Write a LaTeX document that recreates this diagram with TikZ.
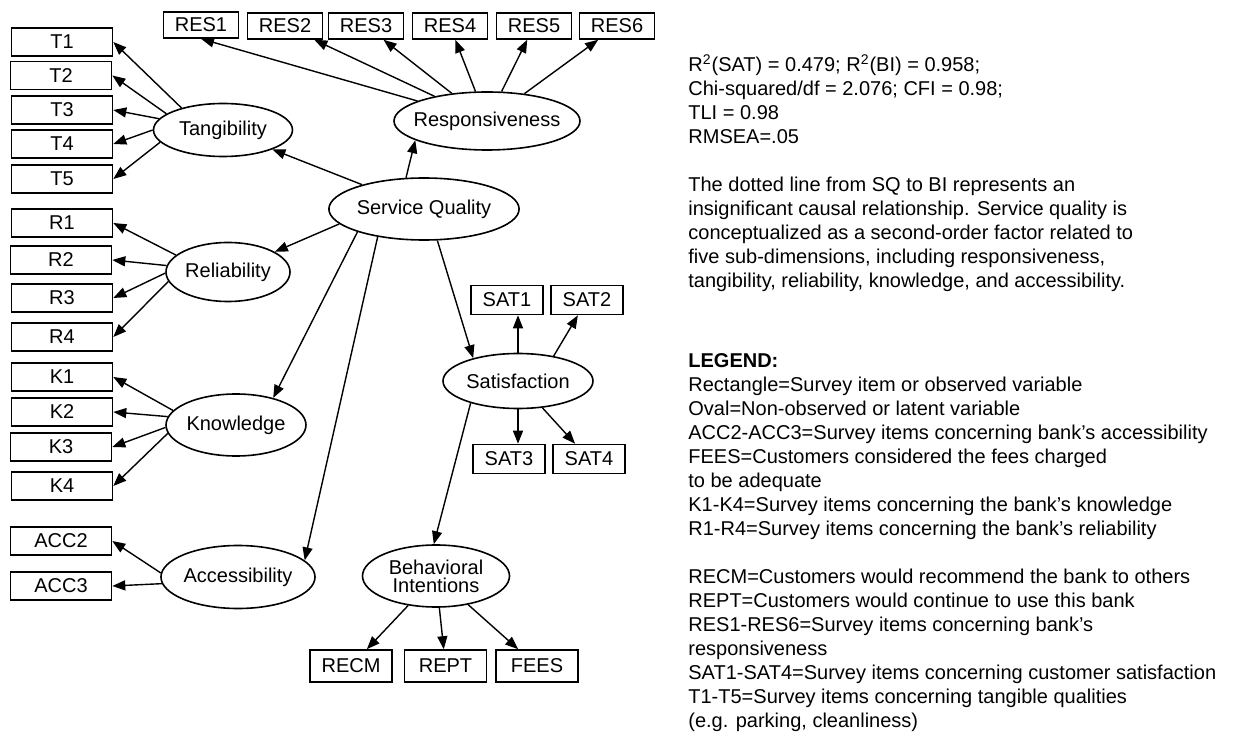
\documentclass[tikz,border=0pt]{standalone}
\usepackage{fontspec}
\setmainfont{Liberation Sans}
\usetikzlibrary{shapes, arrows.meta}

\begin{document}
\begin{tikzpicture}[x=0.5pt, y=-0.5pt,
    item/.style={draw, line width=0.8pt, minimum width=50.5pt, minimum height=14pt, inner sep=0pt},
    topitem/.style={item, minimum width=37.5pt, minimum height=13pt},
    satitem/.style={item, minimum width=36pt, minimum height=14.5pt},
    outitem/.style={item, minimum width=41pt, minimum height=16pt},
    latent/.style={draw, ellipse, line width=0.8pt, inner sep=0pt},
    causal/.style={-{Triangle[length=6.5pt, width=5pt]}, line width=0.7pt}]
    \useasboundingbox (0,0) rectangle (1258,732);
    \node[item] (t1) at (62,42) {T1};
    \node[item] (t2) at (61,75.5) {T2};
    \node[item] (t3) at (62,110) {T3};
    \node[item] (t4) at (62,144) {T4};
    \node[item] (t5) at (62,179) {T5};
    \node[item] (r1) at (62,223) {R1};
    \node[item] (r2) at (61,260) {R2};
    \node[item] (r3) at (62,298) {R3};
    \node[item] (r4) at (62,337) {R4};
    \node[item] (k1) at (62,377) {K1};
    \node[item] (k2) at (62,412) {K2};
    \node[item] (k3) at (61,447) {K3};
    \node[item] (k4) at (62,486) {K4};
    \node[item] (acc2) at (61,541) {ACC2};
    \node[item] (acc3) at (61,586) {ACC3};
    \node[topitem] (res1) at (201,25) {RES1};
    \node[topitem] (res2) at (285,26) {RES2};
    \node[topitem] (res3) at (366,26) {RES3};
    \node[topitem] (res4) at (450,26) {RES4};
    \node[topitem] (res5) at (534,26) {RES5};
    \node[topitem] (res6) at (617,26) {RES6};
    \node[latent, minimum width=69.5pt, minimum height=26.5pt] (tang) at (223,130) {Tangibility};
    \node[latent, minimum width=62pt, minimum height=29.5pt] (rel) at (228,272) {Reliability};
    \node[latent, minimum width=69pt, minimum height=31pt] (know) at (236,425) {Knowledge};
    \node[latent, minimum width=75pt, minimum height=31.5pt] (acc) at (238,577) {Accessibility};
    \node[latent, minimum width=93pt, minimum height=29pt, inner xsep=-4pt] (resp) at (487,121) {Responsiveness};
    \node[latent, minimum width=88pt, minimum height=31pt] (sq) at (424,209) {Service Quality};
    \node[latent, minimum width=75pt, minimum height=27.5pt] (sat) at (518,381) {Satisfaction};
    \node[latent, minimum width=73.5pt, minimum height=31pt, align=center] (beh) at (436,576) {Behavioral\\[-3pt]Intentions};
    \node[satitem] (sat1) at (507,300) {SAT1};
    \node[satitem] (sat2) at (587,300) {SAT2};
    \node[satitem] (sat3) at (509,459) {SAT3};
    \node[satitem] (sat4) at (589,459) {SAT4};
    \node[outitem] (recm) at (351,666) {RECM};
    \node[outitem] (rept) at (445.5,666) {REPT};
    \node[outitem] (fees) at (537,666) {FEES};
    \draw[causal] (sq) -- (tang);
    \draw[causal] (sq.120) -- (resp.195);
    \draw[causal] (sq.190) -- (rel);
    \draw[causal] (sq.199) -- (know.36);
    \draw[causal] (sq.211) -- (acc.14);
    \draw[causal] (sq.293) -- (sat.153);
    \draw[causal] (sat.205) -- (beh.94);
    \draw[causal] (tang.152) -- (t1.east);
    \draw[causal] (tang.164) -- (t2.east);
    \draw[causal] (tang.170) -- (t3.east);
    \draw[causal] (tang.180) -- (t4.east);
    \draw[causal] (tang.191) -- (t5.east);
    \draw[causal] (rel.162) -- (r1.east);
    \draw[causal] (rel.174) -- (r2.east);
    \draw[causal] (rel.181) -- (r3.east);
    \draw[causal] (rel.189) -- (r4.east);
    \draw[causal] (know.167) -- (k1.east);
    \draw[causal] (know.173) -- (k2.east);
    \draw[causal] (know.182) -- (k3.east);
    \draw[causal] (know.187) -- (k4.east);
    \draw[causal] (acc.177) -- (acc2.east);
    \draw[causal] (acc.185) -- (acc3.east);
    \draw[causal] (resp) -- (res1.south);
    \draw[causal] (resp) -- (res2);
    \draw[causal] (resp) -- (res3);
    \draw[causal] (resp) -- (res4);
    \draw[causal] (resp) -- (res5);
    \draw[causal] (resp) -- (res6);
    \draw[causal] (sat.north) -- (sat.north |- sat1.south);
    \draw[causal] (sat.35) -- (sat2);
    \draw[causal] (sat.south) -- (sat.south |- sat3.north);
    \draw[causal] (sat) -- (sat4);
    \draw[causal] (beh) -- (recm);
    \draw[causal] (beh) -- (rept);
    \draw[causal] (beh) -- (fees);
    \node[anchor=base west, align=left, inner sep=0pt] (fit) at (688,288) {R\textsuperscript{2}(SAT) = 0.479; R\textsuperscript{2}(BI) = 0.958;\\
        Chi-squared/df = 2.076; CFI = 0.98;\\
        TLI = 0.98\\
        RMSEA=.05\\[12pt]
        The dotted line from SQ to BI represents an\\
        insignificant causal relationship. Service quality is\\
        conceptualized as a second-order factor related to\\
        five sub-dimensions, including responsiveness,\\
        tangibility, reliability, knowledge, and accessibility.};
    \node[anchor=base west, align=left, inner sep=0pt] (legend) at (688,727) {\textbf{LEGEND:}\\
        Rectangle=Survey item or observed variable\\
        Oval=Non-observed or latent variable\\
        ACC2-ACC3=Survey items concerning bank’s accessibility\\
        FEES=Customers considered the fees charged\\
        to be adequate\\
        K1-K4=Survey items concerning the bank’s knowledge\\
        R1-R4=Survey items concerning the bank’s reliability\\[12pt]
        RECM=Customers would recommend the bank to others\\
        REPT=Customers would continue to use this bank\\
        RES1-RES6=Survey items concerning bank’s\\
        responsiveness\\
        SAT1-SAT4=Survey items concerning customer satisfaction\\
        T1-T5=Survey items concerning tangible qualities\\
        (e.g. parking, cleanliness)};
\end{tikzpicture}
\end{document}
